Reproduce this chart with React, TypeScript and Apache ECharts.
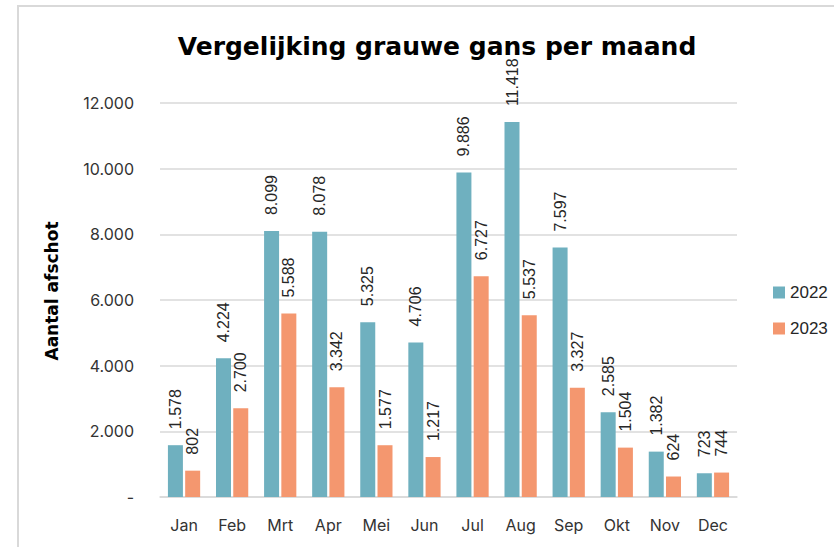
import React, { useEffect, useRef } from "react";
import * as echarts from "echarts";

const months = ["Jan", "Feb", "Mrt", "Apr", "Mei", "Jun", "Jul", "Aug", "Sep", "Okt", "Nov", "Dec"];
const values2022 = [1578, 4224, 8099, 8078, 5325, 4706, 9886, 11418, 7597, 2585, 1382, 723];
const values2023 = [802, 2700, 5588, 3342, 1577, 1217, 6727, 5537, 3327, 1504, 624, 744];
const seriesNames = ["2022", "2023"];
const yTicks = { min: 0, max: 12000, interval: 2000 };

const fmt = (v: number) => String(Math.round(v)).replace(/\B(?=(\d{3})+(?!\d))/g, ".");

export default function App() {
  const ref = useRef<HTMLDivElement>(null);
  useEffect(() => {
    if (!ref.current) return;
    const chart = echarts.init(ref.current, undefined, { renderer: "svg" });
    const labelCfg = {
      show: true,
      position: "top" as const,
      rotate: 90,
      align: "left" as const,
      verticalAlign: "middle" as const,
      distance: 16,
      fontFamily: "Liberation Sans",
      fontSize: 16,
      color: "#262626",
      formatter: (p: any) => fmt(p.value),
    };
    chart.setOption({
      animation: false,
      backgroundColor: "#ffffff",
      graphic: [
        {
          type: "rect",
          shape: { x: 18, y: 6, width: 830, height: 560 },
          style: { fill: "none", stroke: "#d9d9d9", lineWidth: 2 },
          silent: true,
        },
      ],
      title: {
        text: "Vergelijking grauwe gans per maand",
        left: 432,
        textAlign: "center",
        top: 29,
        textStyle: { fontFamily: "DejaVu Sans", fontWeight: "bold", fontSize: 25, color: "#000000" },
      },
      legend: {
        orient: "vertical",
        left: 768,
        top: 279,
        itemWidth: 12,
        itemHeight: 12,
        itemGap: 19,
        icon: "rect",
        data: seriesNames,
        textStyle: { fontFamily: "Liberation Sans", fontSize: 17, color: "#262626" },
      },
      grid: { left: 160, right: 97, top: 103, bottom: 50 },
      xAxis: {
        type: "category",
        data: months,
        axisLine: { show: true, lineStyle: { color: "#d9d9d9", width: 1.5 } },
        axisTick: { show: false },
        axisLabel: { margin: 20, fontFamily: "Inter", fontSize: 16, color: "#333333" },
      },
      yAxis: {
        type: "value",
        min: yTicks.min,
        max: yTicks.max,
        interval: yTicks.interval,
        name: "Aantal afschot",
        nameLocation: "middle",
        nameGap: 100,
        nameRotate: 90,
        nameTextStyle: {
          fontFamily: "DejaVu Sans",
          fontWeight: "bold",
          fontSize: 17,
          color: "#000000",
          padding: [0, 0, 0, 18],
        },
        axisLine: { show: false },
        axisTick: { show: false },
        axisLabel: {
          margin: 26,
          fontFamily: "Inter",
          fontSize: 16,
          color: "#333333",
          formatter: (v: number) => (v === 0 ? "-" : fmt(v)),
        },
        splitLine: { lineStyle: { color: "#d9d9d9", width: 1.5 } },
      },
      series: [
        {
          name: seriesNames[0],
          type: "bar",
          data: values2022,
          barWidth: 15,
          barGap: "15%",
          itemStyle: { color: "#6fb0bf" },
          label: labelCfg,
        },
        {
          name: seriesNames[1],
          type: "bar",
          data: values2023,
          barWidth: 15,
          barGap: "15%",
          itemStyle: { color: "#f4976f" },
          label: labelCfg,
        },
      ],
    });
    return () => chart.dispose();
  }, []);
  return (
    <div
      ref={ref}
      style={{ position: "fixed", left: 0, top: 0, width: 834, height: 547, background: "#fff" }}
    />
  );
}
